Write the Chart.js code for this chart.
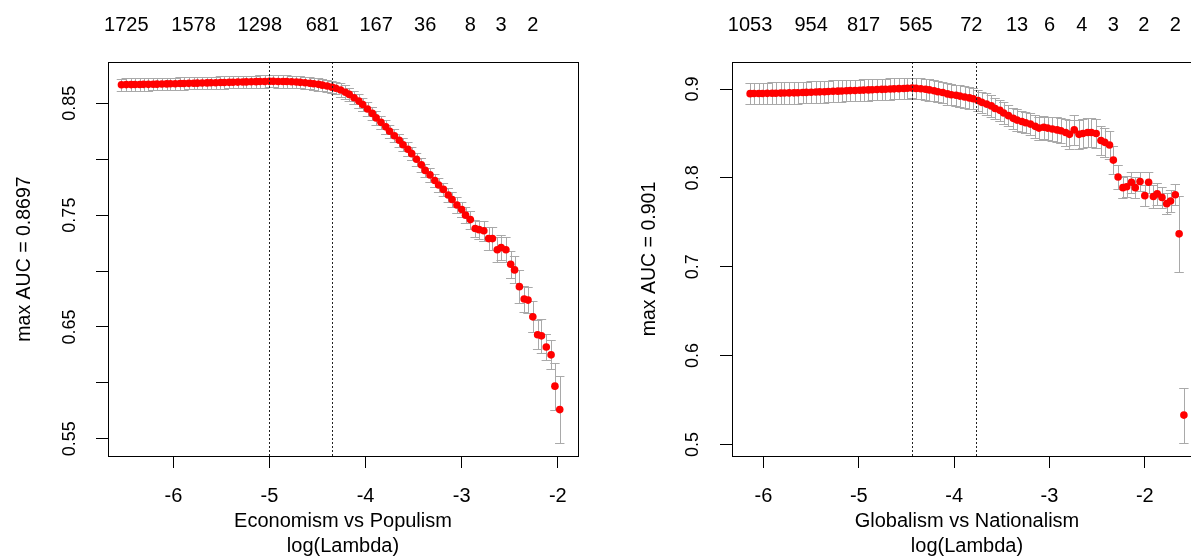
<!DOCTYPE html>
<html><head><meta charset="utf-8">
<script src="https://cdn.jsdelivr.net/npm/chart.js@4.4.1/dist/chart.umd.min.js"></script>
<style>
html,body{margin:0;padding:0;background:#fff;overflow:hidden;}
#wrap{position:relative;width:1191px;height:560px;overflow:hidden;background:#fff;}
#cL{position:absolute;left:0;top:0;}
#cR{position:absolute;left:624px;top:0;}
</style></head><body>
<div id="wrap"><canvas id="cL" width="595" height="560"></canvas><canvas id="cR" width="600" height="560"></canvas></div>
<script>
// ---------- Left panel: Economism vs Populism ----------
const lambdaL = [-1.98,-2.03,-2.07,-2.12,-2.17,-2.21,-2.26,-2.31,-2.35,-2.40,
  -2.45,-2.49,-2.54,-2.59,-2.63,-2.68,-2.72,-2.77,-2.82,-2.86,
  -2.91,-2.96,-3.00,-3.05,-3.10,-3.14,-3.19,-3.24,-3.28,-3.33,
  -3.38,-3.42,-3.47,-3.52,-3.56,-3.61,-3.65,-3.70,-3.75,-3.79,
  -3.84,-3.89,-3.93,-3.98,-4.03,-4.07,-4.12,-4.17,-4.21,-4.26,
  -4.31,-4.35,-4.40,-4.45,-4.49,-4.54,-4.58,-4.63,-4.68,-4.72,
  -4.77,-4.82,-4.86,-4.91,-4.96,-5.00,-5.05,-5.10,-5.14,-5.19,
  -5.24,-5.28,-5.33,-5.38,-5.42,-5.47,-5.51,-5.56,-5.61,-5.65,
  -5.70,-5.75,-5.79,-5.84,-5.89,-5.93,-5.98,-6.03,-6.07,-6.12,
  -6.17,-6.21,-6.26,-6.31,-6.35,-6.40,-6.44,-6.49,-6.54];
const aucL = [0.576,0.597,0.625,0.632,0.642,0.643,0.659,0.674,0.675,0.686,
  0.701,0.706,0.719,0.721,0.719,0.729,0.729,0.736,0.737,0.738,
  0.746,0.750,0.755,0.759,0.764,0.768,0.773,0.777,0.781,0.786,
  0.790,0.795,0.800,0.805,0.809,0.813,0.817,0.821,0.825,0.829,
  0.833,0.837,0.841,0.845,0.849,0.852,0.855,0.858,0.860,0.862,
  0.8635,0.8645,0.8655,0.8663,0.8670,0.8675,0.8680,0.8684,0.8688,0.8691,
  0.8693,0.8695,0.8696,0.8696,0.8697,0.8697,0.8696,0.8695,0.8694,0.8693,
  0.8692,0.8691,0.8690,0.8689,0.8688,0.8687,0.8686,0.8685,0.8684,0.8683,
  0.8682,0.8681,0.8680,0.8679,0.8678,0.8677,0.8676,0.8675,0.8674,0.8673,
  0.8672,0.8671,0.8670,0.8670,0.8669,0.8669,0.8668,0.8668,0.8667];
const seL = [0.030,0.021,0.013,0.012,0.015,0.013,0.014,0.012,0.012,0.015,
  0.012,0.012,0.011,0.011,0.011,0.010,0.010,0.009,0.008,0.008,
  0.008,0.007,0.007,0.007,0.007,0.006,0.006,0.006,0.006,0.006,
  0.006,0.006,0.006,0.006,0.006,0.006,0.006,0.006,0.006,0.006,
  0.006,0.006,0.006,0.006,0.006,0.006,0.006,0.006,0.006,0.006,
  0.0055,0.0055,0.0055,0.0055,0.0055,0.0055,0.0055,0.0055,0.0055,0.0055,
  0.0055,0.0055,0.0055,0.0055,0.0055,0.0055,0.0055,0.0055,0.0055,0.0055,
  0.0055,0.0055,0.0055,0.0055,0.0055,0.0055,0.0055,0.0055,0.0055,0.0055,
  0.0055,0.0055,0.0055,0.0055,0.0055,0.0055,0.0055,0.0055,0.0055,0.0055,
  0.0055,0.0055,0.0055,0.0055,0.0055,0.0055,0.0055,0.0055,0.0055];
const vlinesL = [-5.00, -4.35];
const xTicksL = [-6, -5, -4, -3, -2];
const yTicksL = [0.55, 0.60, 0.65, 0.70, 0.75, 0.80, 0.85];
const yLabelsL = ['0.55', '', '0.65', '', '0.75', '', '0.85'];
const topPosL = [-6.49, -5.79, -5.10, -4.45, -3.89, -3.38, -2.91, -2.59, -2.26];
const topLabL = ['1725', '1578', '1298', '681', '167', '36', '8', '3', '2'];
const xTitleL = ['Economism vs Populism', 'log(Lambda)'];
const yTitleL = 'max AUC = 0.8697';

// ---------- Right panel: Globalism vs Nationalism ----------
const lambdaR = [-1.59,-1.64,-1.68,-1.73,-1.77,-1.82,-1.87,-1.91,-1.96,-2.00,
  -2.05,-2.10,-2.14,-2.19,-2.23,-2.28,-2.33,-2.37,-2.42,-2.46,
  -2.51,-2.56,-2.60,-2.65,-2.69,-2.74,-2.79,-2.83,-2.88,-2.92,
  -2.97,-3.02,-3.06,-3.11,-3.15,-3.20,-3.25,-3.29,-3.34,-3.38,
  -3.43,-3.48,-3.52,-3.57,-3.61,-3.66,-3.71,-3.75,-3.80,-3.84,
  -3.89,-3.94,-3.98,-4.03,-4.07,-4.12,-4.17,-4.21,-4.26,-4.30,
  -4.35,-4.40,-4.44,-4.49,-4.53,-4.58,-4.63,-4.67,-4.72,-4.76,
  -4.81,-4.86,-4.90,-4.95,-4.99,-5.04,-5.09,-5.13,-5.18,-5.22,
  -5.27,-5.32,-5.36,-5.41,-5.45,-5.50,-5.55,-5.59,-5.64,-5.68,
  -5.73,-5.78,-5.82,-5.87,-5.91,-5.96,-6.01,-6.05,-6.10,-6.14];
const aucR = [0.533,0.737,0.781,0.774,0.771,0.778,0.782,0.779,0.795,0.780,
  0.796,0.789,0.795,0.790,0.789,0.801,0.820,0.837,0.840,0.842,
  0.850,0.851,0.851,0.850,0.849,0.854,0.849,0.851,0.853,0.854,
  0.855,0.856,0.857,0.856,0.858,0.8605,0.862,0.8635,0.865,0.867,
  0.870,0.873,0.876,0.878,0.881,0.883,0.885,0.887,0.889,0.890,
  0.891,0.892,0.893,0.8935,0.8945,0.896,0.897,0.898,0.899,0.8998,
  0.9003,0.9007,0.9010,0.9008,0.9006,0.9004,0.9002,0.9000,0.8998,0.8996,
  0.8994,0.8992,0.8990,0.8988,0.8986,0.8984,0.8982,0.8980,0.8978,0.8976,
  0.8974,0.8972,0.8970,0.8968,0.8966,0.8964,0.8962,0.8960,0.8958,0.8957,
  0.8956,0.8955,0.8954,0.8953,0.8952,0.8951,0.8950,0.8950,0.8949,0.8948];
const seR = [0.031,0.043,0.012,0.012,0.012,0.012,0.012,0.013,0.012,0.012,
  0.011,0.012,0.012,0.012,0.012,0.013,0.016,0.016,0.016,0.016,
  0.016,0.016,0.016,0.016,0.016,0.017,0.016,0.015,0.014,0.014,
  0.013,0.013,0.013,0.013,0.013,0.012,0.012,0.012,0.012,0.012,
  0.012,0.012,0.012,0.012,0.012,0.012,0.012,0.012,0.012,0.012,
  0.012,0.012,0.012,0.012,0.012,0.012,0.012,0.012,0.012,0.0118,
  0.0117,0.0116,0.0116,0.0117,0.0118,0.012,0.012,0.012,0.012,0.012,
  0.012,0.012,0.012,0.012,0.012,0.012,0.012,0.012,0.012,0.012,
  0.0122,0.0122,0.0122,0.0122,0.0122,0.0122,0.0122,0.0122,0.0122,0.0122,
  0.0122,0.0122,0.0122,0.0122,0.0122,0.0122,0.0122,0.0122,0.0122,0.0122];
const vlinesR = [-4.44, -3.77];
const xTicksR = [-6, -5, -4, -3, -2];
const yTicksR = [0.5, 0.6, 0.7, 0.8, 0.9];
const yLabelsR = ['0.5', '0.6', '0.7', '0.8', '0.9'];
const topPosR = [-6.14, -5.50, -4.95, -4.40, -3.82, -3.34, -3.00, -2.66, -2.33, -2.01, -1.68];
const topLabR = ['1053', '954', '817', '565', '72', '13', '6', '4', '3', '2', '2'];
const xTitleR = ['Globalism vs Nationalism', 'log(Lambda)'];
const yTitleR = 'max AUC = 0.901';

// ---------- drawing ----------
const FONT = '"Liberation Sans", Arial, Helvetica, sans-serif';
Chart.defaults.color = '#000';
Chart.defaults.font.family = FONT;

const cvPlugin = {
  id: 'cv',
  beforeDatasetsDraw(chart, args, opts) {
    const ctx = chart.ctx, xs = chart.scales.x, ys = chart.scales.y, a = chart.chartArea;
    const barw = (xs.max - xs.min) * 0.01;
    ctx.save();
    ctx.beginPath(); ctx.rect(a.left, a.top, a.right - a.left, a.bottom - a.top); ctx.clip();
    ctx.strokeStyle = '#A9A9A9'; ctx.lineWidth = 1;
    ctx.beginPath();
    opts.lambda.forEach((l, i) => {
      const xp = Math.round(xs.getPixelForValue(l)) + 0.5;
      const xl = xs.getPixelForValue(l - barw), xr = xs.getPixelForValue(l + barw);
      const yu = Math.round(ys.getPixelForValue(opts.mean[i] + opts.se[i])) + 0.5;
      const yl = Math.round(ys.getPixelForValue(opts.mean[i] - opts.se[i])) + 0.5;
      ctx.moveTo(xp, yu); ctx.lineTo(xp, yl);
      ctx.moveTo(xl, yu); ctx.lineTo(xr, yu);
      ctx.moveTo(xl, yl); ctx.lineTo(xr, yl);
    });
    ctx.stroke();
    ctx.restore();
  },
  afterDatasetsDraw(chart, args, opts) {
    const ctx = chart.ctx, xs = chart.scales.x, a = chart.chartArea;
    ctx.save();
    ctx.strokeStyle = '#222'; ctx.lineWidth = 1; ctx.setLineDash([2, 2]);
    opts.vlines.forEach(v => {
      const xp = Math.round(xs.getPixelForValue(v)) + 0.5;
      ctx.beginPath(); ctx.moveTo(xp, a.top); ctx.lineTo(xp, a.bottom); ctx.stroke();
    });
    ctx.restore();
  },
  afterDraw(chart) {
    const ctx = chart.ctx, a = chart.chartArea;
    ctx.save();
    ctx.strokeStyle = '#000'; ctx.lineWidth = 1;
    ctx.strokeRect(Math.round(a.left) + 0.5, Math.round(a.top) + 0.5,
      Math.round(a.right - a.left), Math.round(a.bottom - a.top));
    ctx.restore();
  }
};

function makeChart(id, cfg) {
  return new Chart(document.getElementById(id), {
    type: 'scatter',
    data: { datasets: [{
      data: cfg.lambda.map((l, i) => ({ x: l, y: cfg.mean[i] })),
      pointRadius: 3.8, pointBackgroundColor: '#ff0000', pointBorderColor: '#ff0000',
      pointBorderWidth: 0, showLine: false, pointHoverRadius: 3.8
    }] },
    plugins: [cvPlugin],
    options: {
      responsive: false, animation: false, devicePixelRatio: 1,
      layout: { padding: { left: 0, right: cfg.padRight, top: 0, bottom: 0 } },
      plugins: {
        legend: { display: false }, tooltip: { enabled: false },
        cv: { lambda: cfg.lambda, mean: cfg.mean, se: cfg.se, vlines: cfg.vlines }
      },
      scales: {
        x: {
          type: 'linear', position: 'bottom', min: cfg.xmin, max: cfg.xmax,
          afterBuildTicks: s => { s.ticks = cfg.xTicks.map(v => ({ value: v })); },
          afterFit: s => { s.height = 104; },
          ticks: { font: { size: 20 }, padding: 16, autoSkip: false, maxRotation: 0, color: '#000',
                   callback: v => String(v) },
          grid: { drawOnChartArea: false, drawTicks: true, tickLength: 12, color: '#000', lineWidth: 1 },
          border: { display: false },
          title: { display: true, text: cfg.xTitle, color: '#000',
                   font: { size: 20, lineHeight: 1.25 }, padding: { top: 0, bottom: 1 } }
        },
        xTop: {
          type: 'linear', axis: 'x', position: 'top', min: cfg.xmin, max: cfg.xmax,
          afterBuildTicks: s => { s.ticks = cfg.topPos.map(v => ({ value: v })); },
          afterFit: s => { s.height = 62; },
          ticks: { font: { size: 20 }, padding: 25, autoSkip: false, maxRotation: 0, color: '#000',
                   callback: (v, i) => cfg.topLab[i] },
          grid: { display: false, drawTicks: false },
          border: { display: false }
        },
        y: {
          type: 'linear', position: 'left', min: cfg.ymin, max: cfg.ymax,
          afterBuildTicks: s => { s.ticks = cfg.yTicks.map(v => ({ value: v })); },
          afterFit: s => { s.width = 108; },
          ticks: { font: { size: 18 }, padding: cfg.yPad, minRotation: 90, maxRotation: 90,
                   crossAlign: 'center', autoSkip: false, color: '#000',
                   callback: (v, i) => cfg.yLabels[i] },
          grid: { drawOnChartArea: false, drawTicks: true, tickLength: 12, color: '#000', lineWidth: 1 },
          border: { display: false },
          title: { display: true, text: cfg.yTitle, color: '#000',
                   font: { size: 19.5 }, padding: { top: cfg.yTitlePad, bottom: 0 } }
        }
      }
    }
  });
}

makeChart('cL', {
  lambda: lambdaL, mean: aucL, se: seL, vlines: vlinesL,
  xmin: -6.68, xmax: -1.79, ymin: 0.5345, ymax: 0.887,
  xTicks: xTicksL, yTicks: yTicksL, yLabels: yLabelsL,
  topPos: topPosL, topLab: topLabL, xTitle: xTitleL, yTitle: yTitleL,
  padRight: 17, yPad: 8, yTitlePad: 13
});
makeChart('cR', {
  lambda: lambdaR, mean: aucR, se: seR, vlines: vlinesR,
  xmin: -6.33, xmax: -1.40, ymin: 0.487, ymax: 0.9304,
  xTicks: xTicksR, yTicks: yTicksR, yLabels: yLabelsR,
  topPos: topPosR, topLab: topLabR, xTitle: xTitleR, yTitle: yTitleR,
  padRight: 22, yPad: 14, yTitlePad: 14
});
</script>
</body></html>
